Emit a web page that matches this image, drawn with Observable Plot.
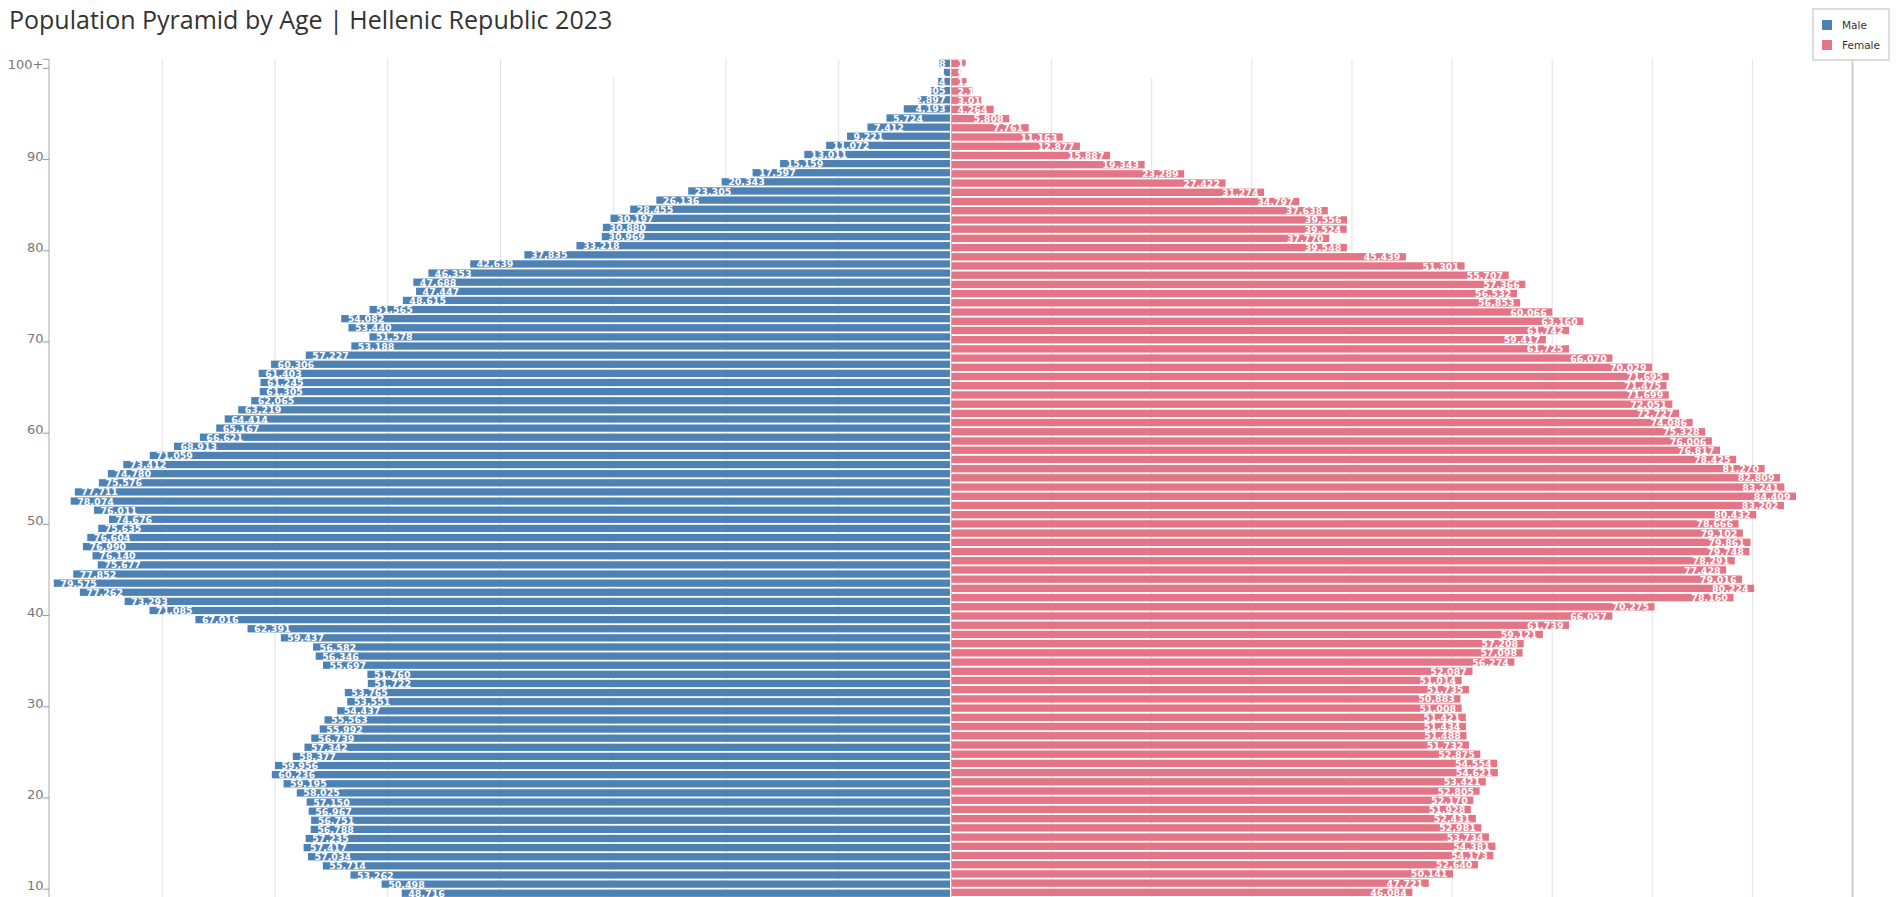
<!DOCTYPE html>
<html>
<head>
<meta charset="utf-8">
<script src="https://cdn.jsdelivr.net/npm/d3@7"></script>
<script src="https://cdn.jsdelivr.net/npm/@observablehq/plot@0.6"></script>
<style>
  html, body { margin: 0; padding: 0; overflow: hidden; background: #fff; }
  #wrap { position: relative; width: 1900px; height: 897px; overflow: hidden; }
  #title { position: absolute; left: 9px; top: 7px; font-family: "Open Sans", sans-serif; font-size: 25px; line-height: 25px; color: #333; white-space: nowrap; }
  #male { position: absolute; left: 0; top: 0; }
  #female { position: absolute; left: 951px; top: 0; }
  #legend { position: absolute; left: 1812px; top: 8px; width: 74px; height: 49px; background: #fff; border: 2.5px solid #dcdcdc; font-family: "DejaVu Sans", sans-serif; font-size: 10.5px; color: #333; }
  .sw { position: absolute; left: 8px; width: 10px; height: 10px; }
  .lb { position: absolute; left: 28px; line-height: 12px; }
</style>
</head>
<body>
<div id="wrap">
  <div id="male"></div>
  <div id="female"></div>
  <div id="title"></div>
  <div id="legend"></div>
</div>
<script>
// ---- data ----
const chartTitle = "Population Pyramid by Age | Hellenic Republic 2023";
const seriesNames = ["Male", "Female"];
const seriesColors = ["#4e82b5", "#e47586"];

// age categories (top to bottom)
const maleAges = ["100+", ...d3.range(99, -1, -1).map(String)];
const femaleAges = ["100+", ...d3.range(99, 0, -1).map(String)];

// male values, from 100+ downwards (visible rows)
const maleValues = [
  1038, 651, 1184, 1805, 2897, 4193, 5724, 7412, 9221, 11072,
  13011, 15159, 17597, 20343, 23305, 26136, 28455, 30197, 30880, 30969,
  33218, 37835, 42639, 46353, 47688, 47447, 48615, 51565, 54082, 53440,
  51578, 53188, 57227, 60306, 61403, 61245, 61305, 62065, 63219, 64414,
  65167, 66621, 68913, 71059, 73412, 74780, 75576, 77711, 78074, 76011,
  74676, 75635, 76604, 76990, 76140, 75677, 77852, 79575, 77262, 73293,
  71085, 67016, 62391, 59437, 56582, 56346, 55697, 51760, 51722, 53765,
  53551, 54437, 55563, 55992, 56739, 57342, 58377, 59956, 60236, 59195,
  58025, 57150, 56967, 56751, 56788, 57235, 57417, 57034, 55714, 53262,
  50498, 48716
];

// female values, from 100+ downwards (visible rows)
const femaleValues = [
  1470, 925, 1548, 2148, 3016, 4264, 5808, 7761, 11163, 12877,
  15887, 19343, 23289, 27422, 31274, 34797, 37638, 39556, 39524, 37770,
  39548, 45439, 51301, 55707, 57366, 56532, 56853, 60066, 63160, 61742,
  59417, 61725, 66070, 70029, 71695, 71475, 71699, 72051, 72727, 74086,
  75328, 76006, 76817, 78425, 81270, 82809, 83241, 84409, 83202, 80432,
  78666, 79102, 79861, 79748, 78291, 77428, 79016, 80224, 78160, 70275,
  66057, 61739, 59121, 57208, 57098, 56274, 52087, 51014, 51735, 50883,
  51008, 51421, 51434, 51488, 51732, 52875, 54554, 54621, 53421, 52805,
  52170, 51928, 52431, 52981, 53734, 54381, 54173, 52640, 50141, 47721,
  46084
];

const yTickLabels = ["100+", "90", "80", "70", "60", "50", "40", "30", "20", "10"];
const maleGrid = [10000, 20000, 40000, 50000, 60000, 70000];
const maleGridShort = [30000];
const femaleGrid = [10000, 30000, 40000, 50000, 60000, 70000, 80000];
const femaleGridShort = [20000];
const maleMax = 80000;
const femaleMax = 90000;
const maleLabelMin = 4400;
const femaleLabelMin = 4900;

// ---- build ----
const male = maleValues.map((v, i) => ({age: maleAges[i], value: v}));
const female = femaleValues.map((v, i) => ({age: femaleAges[i], value: v}));
const fmt = d3.format(",");

const yBand = (domain) => ({type: "band", domain, range: [58.74, 979.86], paddingInner: 0.2, paddingOuter: 0.1, round: false, axis: null, label: null});
const baseStyle = {fontFamily: "DejaVu Sans", background: "transparent", overflow: "visible"};
const labelOpts = {fill: "white", fontWeight: "bold", fontSize: 9.5, text: d => fmt(d.value), y: "age"};
const gridColor = "#e2e2e2";

const malePlot = Plot.plot({
  width: 951, height: 1000,
  marginLeft: 49, marginRight: 0, marginTop: 59, marginBottom: 20,
  style: baseStyle,
  x: {domain: [0, maleMax], reverse: true, axis: null, label: null},
  y: yBand(maleAges),
  marks: [
    Plot.ruleX(maleGrid, {stroke: gridColor}),
    Plot.ruleX(maleGridShort, {stroke: gridColor, insetTop: 19}),
    Plot.ruleX([maleMax], {stroke: "#aaa", dx: -0.5}),
    Plot.barX(male, {x: "value", y: "age", fill: seriesColors[0], insetRight: 1}),
    Plot.ruleX([0], {stroke: "#cfcfcf"}),
    Plot.text(male, {...labelOpts, filter: d => d.value >= maleLabelMin, x: "value", textAnchor: "start", dx: 6}),
    Plot.text(male, {...labelOpts, filter: d => d.value < maleLabelMin, x: () => 0, textAnchor: "end", dx: -6}),
    Plot.axisY(yTickLabels, {anchor: "left", label: null, tickSize: 6, fill: "none", stroke: "#999", dy: 4.56}),
    Plot.axisY(yTickLabels.slice(0, 1), {anchor: "left", label: null, tickSize: 6, fill: "none", stroke: "#999", dy: -4.56}),
    Plot.axisY(yTickLabels, {anchor: "left", label: null, tickSize: 0, tickPadding: 6, fill: "#777", fontSize: 13, dy: 1.5})
  ]
});
document.getElementById("male").appendChild(malePlot);

const femalePlot = Plot.plot({
  width: 949, height: 1000,
  marginLeft: 0, marginRight: 48, marginTop: 59, marginBottom: 20,
  style: baseStyle,
  x: {domain: [0, femaleMax], axis: null, label: null},
  y: yBand(femaleAges),
  marks: [
    Plot.ruleX(femaleGrid, {stroke: gridColor}),
    Plot.ruleX(femaleGridShort, {stroke: gridColor, insetTop: 19}),
    Plot.ruleX([femaleMax], {stroke: "#cfcfcf", strokeWidth: 2}),
    Plot.barX(female, {x: "value", y: "age", fill: seriesColors[1], insetLeft: 0.5}),
    Plot.text(female, {...labelOpts, filter: d => d.value >= femaleLabelMin, x: "value", textAnchor: "end", dx: -6}),
    Plot.text(female, {...labelOpts, filter: d => d.value < femaleLabelMin, x: () => 0, textAnchor: "start", dx: 6})
  ]
});
document.getElementById("female").appendChild(femalePlot);

document.getElementById("title").textContent = chartTitle;

const legend = document.getElementById("legend");
seriesNames.forEach((name, i) => {
  const sw = document.createElement("div");
  sw.className = "sw";
  sw.style.top = (10 + i * 20) + "px";
  sw.style.background = seriesColors[i];
  legend.appendChild(sw);
  const lb = document.createElement("div");
  lb.className = "lb";
  lb.style.top = (9 + i * 20) + "px";
  lb.textContent = name;
  legend.appendChild(lb);
});
</script>
</body>
</html>
